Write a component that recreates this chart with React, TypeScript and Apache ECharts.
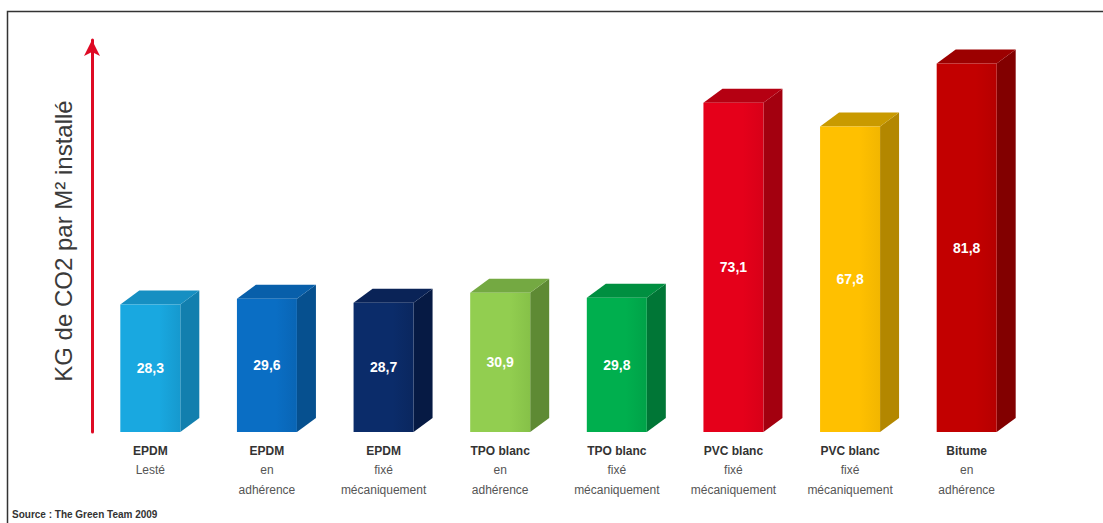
import React, { useEffect, useRef } from "react";
import * as echarts from "echarts";

const materials = ["EPDM", "EPDM", "EPDM", "TPO blanc", "TPO blanc", "PVC blanc", "PVC blanc", "Bitume"];
const methods = ["Lesté", "en\nadhérence", "fixé\nmécaniquement", "en\nadhérence", "fixé\nmécaniquement", "fixé\nmécaniquement", "fixé\nmécaniquement", "en\nadhérence"];
const values = [28.3, 29.6, 28.7, 30.9, 29.8, 73.1, 67.8, 81.8];

const frontColors = ["#19A8E0", "#0A6EC4", "#0B2C6A", "#92CE50", "#00AF4E", "#E5001A", "#FFC000", "#C20000"];
const shadeColors = ["#1699CE", "#0965B5", "#0A275F", "#86C148", "#00A248", "#D80018", "#F2B600", "#B60000"];
const sideColors = ["#127FAE", "#06508F", "#061A44", "#5E8A34", "#007636", "#A3000F", "#B38700", "#820000"];
const topColors = ["#168FC2", "#085FAA", "#0A2357", "#74A942", "#008F40", "#B50012", "#C99A00", "#9C0000"];

const yAxisTitle = "KG de CO2 par M² installé";
const sourceText = "Source : The Green Team 2009";

export default function App() {
  const ref = useRef<HTMLDivElement>(null);
  useEffect(() => {
    document.body.style.margin = "0";
    const chart = echarts.init(ref.current!, null, { renderer: "svg" });
    const labels = materials.map((m, i) => {
      const rest = methods[i].split("\n").map((s) => `{n|${s}}`).join("\n");
      return `{b|${m}}\n${rest}`;
    });
    const option = {
      animation: false,
      backgroundColor: "#ffffff",
      grid: { left: 92, right: 78, top: 40, bottom: 91 },
      xAxis: {
        type: "category",
        data: labels,
        axisLine: { show: false },
        axisTick: { show: false },
        axisLabel: {
          interval: 0,
          margin: 9,
          rich: {
            b: { fontFamily: "Liberation Sans", fontSize: 12, fontWeight: "bold", color: "#333", lineHeight: 19 },
            n: { fontFamily: "Liberation Sans", fontSize: 12, color: "#555", lineHeight: 20 },
          },
        },
      },
      yAxis: {
        type: "value",
        min: 0,
        max: 87,
        splitLine: { show: false },
        axisLabel: { show: false },
        axisTick: { show: false },
        axisLine: {
          show: true,
          symbol: ["none", "arrow"],
          symbolSize: [12, 16],
          lineStyle: { color: "#DE0A24", width: 3 },
        },
      },
      graphic: [
        {
          type: "rect",
          left: 5,
          top: 9,
          shape: { width: 1200, height: 600 },
          style: { fill: "none", stroke: "#333", lineWidth: 1.5 },
          silent: true,
        },
        {
          type: "text",
          x: 63,
          y: 241,
          rotation: Math.PI / 2,
          style: {
            text: yAxisTitle,
            fontFamily: "Liberation Sans",
            fontSize: 24,
            fill: "#3a3a3a",
            align: "center",
            verticalAlign: "middle",
          },
        },
        {
          type: "text",
          left: 12,
          top: 509,
          style: {
            text: sourceText,
            fontFamily: "Liberation Sans",
            fontSize: 10,
            fontWeight: "bold",
            fill: "#333",
          },
        },
      ],
      series: [
        {
          type: "custom",
          data: values.map((v, i) => [i, v]),
          renderItem: (params: any, api: any) => {
            const idx = api.value(0);
            const v = api.value(1);
            const top = api.coord([idx, v]);
            const base = api.coord([idx, 0]);
            const w = 60;
            const dx = 19;
            const dy = 14;
            const x0 = top[0] - w / 2;
            const x1 = top[0] + w / 2;
            const yT = top[1];
            const yB = base[1];
            const i = params.dataIndex;
            return {
              type: "group",
              children: [
                {
                  type: "polygon",
                  shape: { points: [[x1, yT], [x1 + dx, yT - dy], [x1 + dx, yB - dy], [x1, yB]] },
                  style: { fill: sideColors[i] },
                },
                {
                  type: "polygon",
                  shape: { points: [[x0, yT], [x0 + dx, yT - dy], [x1 + dx, yT - dy], [x1, yT]] },
                  style: { fill: topColors[i] },
                },
                {
                  type: "rect",
                  shape: { x: x0, y: yT, width: w, height: yB - yT },
                  style: {
                    fill: new echarts.graphic.LinearGradient(0, 0, 1, 0, [
                      { offset: 0, color: frontColors[i] },
                      { offset: 0.65, color: frontColors[i] },
                      { offset: 1, color: shadeColors[i] },
                    ]),
                  },
                },
                {
                  type: "text",
                  x: top[0],
                  y: (yT + yB) / 2,
                  style: {
                    text: String(values[i]).replace(".", ","),
                    fontFamily: "Liberation Sans",
                    fontSize: 14,
                    fontWeight: "bold",
                    fill: "#ffffff",
                    align: "center",
                    verticalAlign: "middle",
                  },
                },
              ],
            };
          },
        },
      ],
    };
    chart.setOption(option as any);
    return () => chart.dispose();
  }, []);
  return <div ref={ref} style={{ width: 1103, height: 523 }} />;
}
